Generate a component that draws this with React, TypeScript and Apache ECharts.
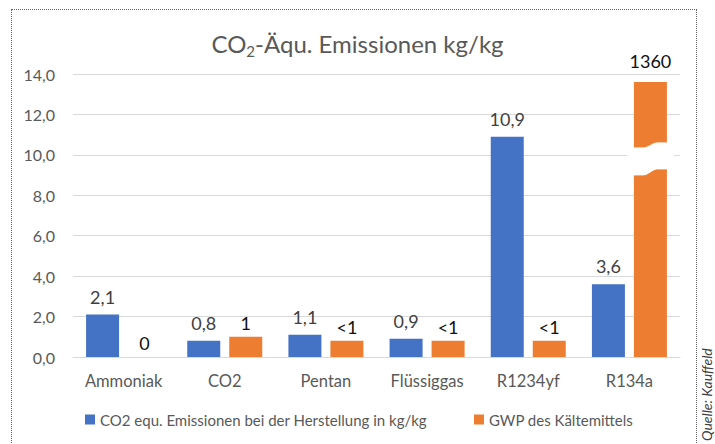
import React, { useEffect, useRef } from "react";
import * as echarts from "echarts";

const categories = ["Ammoniak", "CO2", "Pentan", "Flüssiggas", "R1234yf", "R134a"];
const blueValues = [2.1, 0.8, 1.1, 0.9, 10.9, 3.6];
const orangeValues = [0, 1, 0.8, 0.8, 0.8, 13.6];
const orangeLabels = ["0", "1", "<1", "<1", "<1", "1360"];
const blueName = "CO2 equ. Emissionen bei der Herstellung in kg/kg";
const orangeName = "GWP des Kältemittels";
const breakPoint = [5, 9.8];

const FONT = "Lato, 'Open Sans', sans-serif";

export default function App() {
  const ref = useRef<HTMLDivElement>(null);
  useEffect(() => {
    if (!ref.current) return;
    const chart = echarts.init(ref.current, null, { renderer: "svg" });
    const barW = 33;
    const gap = 9;
    chart.setOption({
      animation: false,
      textStyle: { fontFamily: FONT },
      title: {
        text: "{a|CO}{s|2}{a|-Äqu. Emissionen kg/kg}",
        left: "center",
        top: 24,
        textStyle: {
          fontWeight: "normal",
          rich: {
            a: { fontSize: 24, color: "#595959", fontFamily: FONT, fontWeight: "normal" },
            s: { fontSize: 15, color: "#595959", fontFamily: FONT, fontWeight: "normal", verticalAlign: "bottom", padding: [14, 0, 0, 0] },
          },
        },
      },
      legend: {
        left: 80,
        top: 407,
        icon: "rect",
        itemWidth: 10,
        itemHeight: 10,
        itemGap: 47,
        textStyle: { fontSize: 15, color: "#595959", fontFamily: FONT },
        data: [blueName, orangeName],
      },
      grid: { left: 73, right: 35, top: 74, bottom: 87, containLabel: false },
      xAxis: {
        type: "category",
        data: categories,
        axisLine: { lineStyle: { color: "#D9D9D9" } },
        axisTick: { show: false },
        axisLabel: { fontSize: 16.5, color: "#595959", margin: 15, interval: 0 },
      },
      yAxis: {
        type: "value",
        min: 0,
        max: 14,
        interval: 2,
        axisLine: { show: false },
        axisTick: { show: false },
        splitLine: { lineStyle: { color: "#D9D9D9" } },
        axisLabel: {
          fontSize: 16,
          color: "#595959",
          margin: 18,
          formatter: (v: number) => v.toFixed(1).replace(".", ","),
        },
      },
      series: [
        {
          name: blueName,
          type: "bar",
          data: blueValues,
          barWidth: barW,
          barGap: (gap / barW) * 100 + "%",
          itemStyle: { color: "#4472C4" },
          label: {
            show: true,
            position: "top",
            distance: 9,
            fontSize: 18,
            fontWeight: "normal",
            color: "#404040",
            formatter: (p: any) => Number(p.value).toFixed(1).replace(".", ","),
          },
        },
        {
          name: orangeName,
          type: "bar",
          data: orangeValues.map((v, i) =>
            i === 5 ? { value: v, label: { distance: 12 } } : v
          ),
          barWidth: barW,
          itemStyle: { color: "#ED7D31" },
          label: {
            show: true,
            position: "top",
            distance: 5,
            fontSize: 18,
            fontWeight: "normal",
            color: "#111111",
            formatter: (p: any) => orangeLabels[p.dataIndex],
          },
        },
        {
          type: "custom",
          silent: true,
          z: 10,
          data: [breakPoint],
          renderItem: (params: any, api: any) => {
            const c = api.coord([api.value(0), api.value(1)]);
            const cx = c[0] + (barW + gap) / 2;
            const cy = c[1];
            const x0 = cx - 23;
            const x1 = cx + 23;
            const pts: number[][] = [];
            const N = 24;
            const s = (t: number) => {
              const u = Math.min(1, Math.max(0, (t - 0.35) / 0.3));
              return u * u * (3 - 2 * u);
            };
            for (let i = 0; i <= N; i++) {
              const t = i / N;
              pts.push([x0 + (x1 - x0) * t, cy - 11 - 5 * s(t)]);
            }
            for (let i = N; i >= 0; i--) {
              const t = i / N;
              pts.push([x0 + (x1 - x0) * t, cy + 16 - 6 * s(t)]);
            }
            return {
              type: "polygon",
              shape: { points: pts },
              style: { fill: "#ffffff", stroke: "#ffffff", lineWidth: 1 },
            };
          },
        },
      ],
      graphic: [
        {
          type: "text",
          rotation: Math.PI / 2,
          x: 713,
          y: 441,
          style: {
            text: "Quelle: Kauffeld",
            font: "italic 14px " + FONT,
            fill: "#404040",
            textAlign: "left",
            textVerticalAlign: "bottom",
          },
        },
      ],
    });
    return () => chart.dispose();
  }, []);
  return (
    <div style={{ position: "fixed", left: 0, top: 0, width: 715, height: 444, background: "#fff" }}>
      <div
        style={{
          position: "absolute",
          left: 11,
          top: 9,
          width: 686,
          height: 460,
          border: "1px dotted #606060",
          boxSizing: "border-box",
        }}
      />
      <div ref={ref} style={{ position: "absolute", left: 0, top: 0, width: 715, height: 444 }} />
    </div>
  );
}
